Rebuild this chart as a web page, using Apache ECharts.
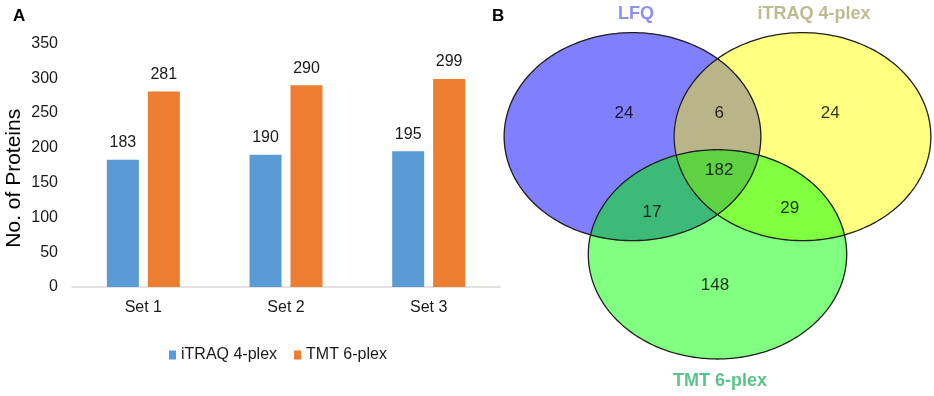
<!DOCTYPE html>
<html>
<head>
<meta charset="utf-8">
<script src="https://cdn.jsdelivr.net/npm/echarts@6/dist/echarts.min.js"></script>
<style>
html, body { margin: 0; padding: 0; background: #fff; }
#main { width: 934px; height: 396px; }
</style>
</head>
<body>
<div id="main"></div>
<script>
// panel A data
var sets = ['Set 1', 'Set 2', 'Set 3'];
var itraq = [183, 190, 195];
var tmt = [281, 290, 299];
var yTicks = [0, 50, 100, 150, 200, 250, 300, 350];

// panel B data: region membership (index into vennNames) and counts
var vennNames = ['LFQ', 'iTRAQ 4-plex', 'TMT 6-plex'];
var vennRegions = [[0], [1], [2], [0, 1], [0, 2], [1, 2], [0, 1, 2]];
var vennCounts = [24, 24, 148, 6, 17, 29, 182];

// venn layout, in the hidden 0..100 axes of the right grid
var ellipses = [
    { cx: 30, cy: 68, rx: 30.2, ry: 31.8 },
    { cx: 70, cy: 68, rx: 30.2, ry: 31.8 },
    { cx: 50, cy: 32, rx: 30.4, ry: 32 }
];
var regionLabelPos = [[28, 75.2], [76.5, 75.2], [49.4, 22.6], [50.4, 75.2], [34.6, 45], [67, 46.2], [50.4, 57.8]];
var nameLabelPos = [[30.8, 105.4], [72.7, 105.4], [50.6, -6.8]];
var regionColors = ['#7f7fff', '#ffff80', '#80ff80', '#b9b588', '#3dba78', '#80ff40', '#5fd243'];
var nameColors = ['#7272f2', '#adab74', '#31b46e'];

var font = 'Arial, "Liberation Sans", sans-serif';

function ellipsePts(i) {
    var e = ellipses[i], pts = [];
    for (var k = 0; k < 240; k++) {
        var t = k / 240 * Math.PI * 2;
        pts.push([e.cx + e.rx * Math.cos(t), e.cy + e.ry * Math.sin(t)]);
    }
    return pts;
}

// sutherland-hodgman against a convex (ccw) polygon
function clipPoly(subject, clip) {
    var out = subject;
    for (var i = 0; i < clip.length && out.length; i++) {
        var a = clip[i], b = clip[(i + 1) % clip.length];
        var input = out;
        out = [];
        var side = function (p) {
            return (b[0] - a[0]) * (p[1] - a[1]) - (b[1] - a[1]) * (p[0] - a[0]) >= 0;
        };
        for (var j = 0; j < input.length; j++) {
            var p = input[j], q = input[(j + 1) % input.length];
            var pin = side(p), qin = side(q);
            if (pin) out.push(p);
            if (pin !== qin) {
                var d1x = q[0] - p[0], d1y = q[1] - p[1];
                var d2x = b[0] - a[0], d2y = b[1] - a[1];
                var den = d1x * d2y - d1y * d2x;
                var t = ((a[0] - p[0]) * d2y - (a[1] - p[1]) * d2x) / den;
                out.push([p[0] + t * d1x, p[1] + t * d1y]);
            }
        }
    }
    return out;
}

var chart = echarts.init(document.getElementById('main'));
var option = {
    animation: false,
    title: [
        { text: 'A', left: 8, top: 3, textStyle: { fontSize: 17, fontWeight: 'bold', color: '#000', fontFamily: font } },
        { text: 'B', left: 487, top: 3, textStyle: { fontSize: 17, fontWeight: 'bold', color: '#000', fontFamily: font } }
    ],
    legend: {
        data: ['iTRAQ 4-plex', 'TMT 6-plex'],
        left: 164,
        top: 342,
        itemWidth: 7,
        itemHeight: 9,
        itemGap: 17,
        icon: 'rect',
        textStyle: { fontSize: 16, color: '#1a1a1a', fontFamily: font }
    },
    grid: [
        { left: 72, top: 43.5, width: 428, bottom: 109 },
        { left: 505, top: 32, width: 425, height: 327 }
    ],
    xAxis: [
        {
            type: 'category',
            data: sets,
            axisTick: { show: false },
            axisLine: { lineStyle: { color: '#d9d9d9', width: 1.5 } },
            axisLabel: { fontSize: 16, color: '#1a1a1a', margin: 13, fontFamily: font }
        },
        { type: 'value', gridIndex: 1, min: 0, max: 100, show: false }
    ],
    yAxis: [
        {
            type: 'value',
            min: yTicks[0],
            max: yTicks[yTicks.length - 1],
            interval: 50,
            splitLine: { show: false },
            axisLine: { show: false },
            axisTick: { show: false },
            axisLabel: { fontSize: 16, color: '#1a1a1a', margin: 14, fontFamily: font },
            name: 'No. of Proteins',
            nameLocation: 'middle',
            nameGap: 47,
            nameTextStyle: { fontSize: 21, color: '#000', fontFamily: font, padding: [0, 26, 0, 0] }
        },
        { type: 'value', gridIndex: 1, min: 0, max: 100, show: false }
    ],
    series: [
        {
            name: 'iTRAQ 4-plex',
            type: 'bar',
            data: itraq,
            barWidth: 32,
            barGap: '28%',
            itemStyle: { color: '#5b9bd5' },
            label: { show: true, position: 'top', distance: 9, fontSize: 16, color: '#1a1a1a', fontFamily: font }
        },
        {
            name: 'TMT 6-plex',
            type: 'bar',
            data: tmt,
            barWidth: 32,
            itemStyle: { color: '#ed7d31' },
            label: { show: true, position: 'top', distance: 9, fontSize: 16, color: '#1a1a1a', fontFamily: font }
        },
        {
            type: 'custom',
            xAxisIndex: 1,
            yAxisIndex: 1,
            silent: true,
            clip: false,
            data: regionLabelPos,
            renderItem: function (params, api) {
                var members = vennRegions[params.dataIndex];
                var poly = ellipsePts(members[0]);
                for (var m = 1; m < members.length; m++) poly = clipPoly(poly, ellipsePts(members[m]));
                return {
                    type: 'polygon',
                    shape: { points: poly.map(function (p) { return api.coord(p); }) },
                    style: { fill: regionColors[params.dataIndex], stroke: regionColors[params.dataIndex], lineWidth: 0.5 }
                };
            }
        },
        {
            type: 'custom',
            xAxisIndex: 1,
            yAxisIndex: 1,
            silent: true,
            clip: false,
            z: 3,
            data: ellipses.map(function (e) { return [e.cx, e.cy]; }),
            renderItem: function (params, api) {
                return {
                    type: 'polygon',
                    shape: { points: ellipsePts(params.dataIndex).map(function (p) { return api.coord(p); }) },
                    style: { fill: 'none', stroke: '#1f1f1f', lineWidth: 1.3 }
                };
            }
        },
        {
            type: 'scatter',
            xAxisIndex: 1,
            yAxisIndex: 1,
            silent: true,
            clip: false,
            z: 4,
            symbolSize: 1,
            itemStyle: { color: 'rgba(0,0,0,0)' },
            data: regionLabelPos.map(function (p, i) { return [p[0], p[1], vennCounts[i]]; }),
            label: {
                show: true,
                position: 'inside',
                formatter: function (p) { return p.value[2]; },
                fontSize: 17,
                color: '#000',
                fontFamily: font
            }
        },
        {
            type: 'scatter',
            xAxisIndex: 1,
            yAxisIndex: 1,
            silent: true,
            clip: false,
            z: 4,
            symbolSize: 1,
            itemStyle: { color: 'rgba(0,0,0,0)' },
            data: nameLabelPos.map(function (p, i) {
                return { value: p, label: { color: nameColors[i] } };
            }),
            label: {
                show: true,
                position: 'inside',
                formatter: function (p) { return vennNames[p.dataIndex]; },
                fontSize: 18,
                fontWeight: 'bold',
                fontFamily: font
            }
        }
    ]
};
chart.setOption(option);
</script>
</body>
</html>
